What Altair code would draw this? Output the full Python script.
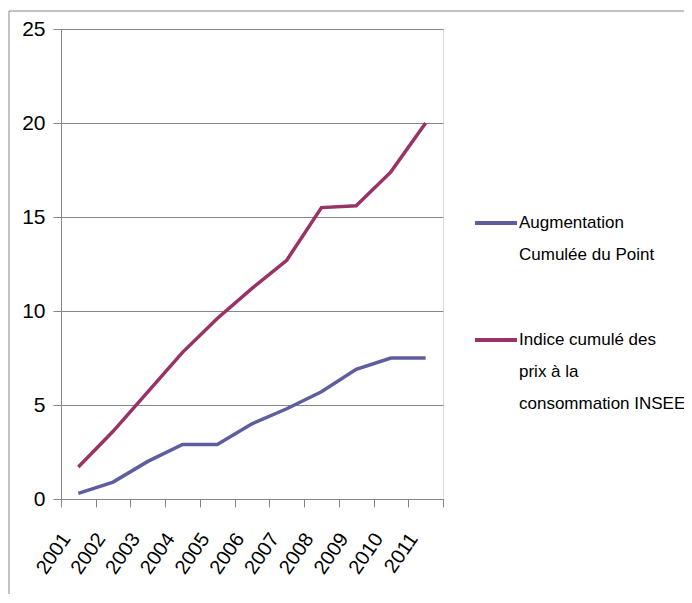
import altair as alt
import pandas as pd

years = [2001, 2002, 2003, 2004, 2005, 2006, 2007, 2008, 2009, 2010, 2011]
augmentation = [0.3, 0.9, 2.0, 2.9, 2.9, 4.0, 4.8, 5.7, 6.9, 7.5, 7.5]
indice = [1.7, 3.6, 5.7, 7.8, 9.6, 11.2, 12.7, 15.5, 15.6, 17.4, 20.0]
series_names = ["Augmentation|Cumulée du Point",
                "Indice cumulé des|prix à la|consommation INSEE"]
series_colors = ["#5E5E9E", "#993366"]
y_ticks = [0, 5, 10, 15, 20, 25]

rows = []
for name, vals in zip(series_names, [augmentation, indice]):
    for yr, v in zip(years, vals):
        rows.append({"year": yr, "value": v, "series": name})
df = pd.DataFrame(rows)

FONT = "Liberation Sans, Arial, sans-serif"
GRAY = "#868686"

x_tick_values = [y - 0.5 for y in years] + [years[-1] + 0.5]

lines = alt.Chart(df).mark_line(strokeWidth=3.5).encode(
    x=alt.X("year:Q",
            scale=alt.Scale(domain=[years[0] - 0.5, years[-1] + 0.5], nice=False, zero=False),
            axis=alt.Axis(values=x_tick_values,
                          labelExpr=f"datum.value < {years[-1]} ? toString(datum.value + 0.5) : ''",
                          labelAngle=-55, labelAlign="right", labelBaseline="middle",
                          labelOffset=5, labelPadding=28, tickSize=8,
                          grid=False, labelFlush=False, labelOverlap=False, labelBound=False,
                          domainColor=GRAY, tickColor=GRAY, title=None,
                          labelFont=FONT, labelFontSize=20, labelColor="#000000")),
    y=alt.Y("value:Q",
            scale=alt.Scale(domain=[0, 25], nice=False),
            axis=alt.Axis(values=y_ticks, tickSize=8, labelPadding=8,
                          grid=True, gridColor=GRAY, domainColor=GRAY, tickColor=GRAY,
                          title=None, labelFont=FONT, labelFontSize=21, labelColor="#000000")),
    color=alt.Color("series:N",
                    scale=alt.Scale(domain=series_names, range=series_colors),
                    legend=alt.Legend(orient="none", legendX=412, legendY=171,
                                      title=None, symbolType="stroke", symbolSize=1764,
                                      symbolStrokeWidth=4, labelOffset=0,
                                      labelExpr="split(datum.label, '|')",
                                      labelFont=FONT, labelFontSize=17, labelColor="#000000",
                                      labelLimit=0, rowPadding=54)),
)

frame = alt.Chart(pd.DataFrame({"a": [0]})).mark_rect(fill=None, stroke=GRAY, strokeWidth=1).encode(
    x=alt.value(-52), x2=alt.value(900), y=alt.value(-18), y2=alt.value(900)
)

chart = alt.layer(frame, lines).properties(
    width=382, height=470,
    autosize=alt.AutoSizeParams(type="none"),
    padding={"left": 53, "top": 21, "right": 241, "bottom": 95},
).configure_view(stroke=None).configure(
    background="white",
    style={"guide-label": {"lineHeight": 32}},
)

chart.save("out.html", embed_options={"renderer": "svg", "actions": False})
